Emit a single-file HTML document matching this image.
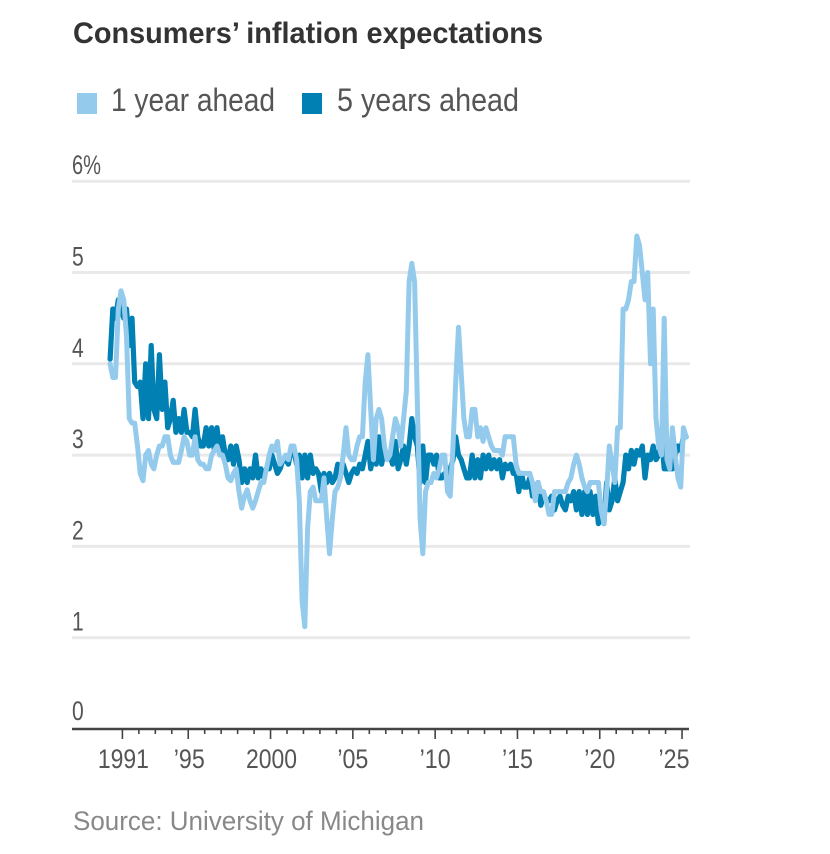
<!DOCTYPE html>
<html lang="en">
<head>
<meta charset="utf-8">
<title>Consumers' inflation expectations</title>
<style>
html,body{margin:0;padding:0;background:#fff;}
svg{display:block;font-family:"Liberation Sans",sans-serif;}
</style>
</head>
<body>
<svg id="chart" xmlns="http://www.w3.org/2000/svg" width="830" height="854" viewBox="0 0 830 854">
  <text x="73" y="43" font-size="30" font-weight="700" fill="#333" textLength="470" lengthAdjust="spacingAndGlyphs">Consumers’ inflation expectations</text>
  <rect x="77" y="93" width="20" height="21" fill="#94cbec"/>
  <text x="111" y="111" font-size="32" fill="#555" textLength="164" lengthAdjust="spacingAndGlyphs">1 year ahead</text>
  <rect x="302" y="93" width="20" height="21" fill="#0080b3"/>
  <text x="337" y="111" font-size="32" fill="#555" textLength="182" lengthAdjust="spacingAndGlyphs">5 years ahead</text>
  <g id="grid"></g>
  <g id="ylabels"></g>
  <g id="series"></g>
  <g id="xaxis"></g>
  <text x="73" y="830" font-size="27" fill="#888" textLength="351" lengthAdjust="spacingAndGlyphs">Source: University of Michigan</text>
</svg>
<script>
// Observations run every two months from the first date onward
const firstDate = 1990.25;
const stepYears = 1 / 6;

const oneYearValues = [
4.0,3.85,3.85,4.6,4.8,4.7,4.3,3.4,3.35,3.35,3.1,2.8,2.72,3.0,3.05,2.9,2.85,3.0,3.1,3.1,
3.2,3.2,3.0,2.92,2.92,2.92,3.05,3.2,3.15,3.0,3.0,3.2,2.95,2.9,2.9,2.85,2.85,3.0,3.05,3.1,
3.0,3.0,2.9,2.75,2.72,2.8,2.85,2.6,2.42,2.55,2.62,2.5,2.42,2.5,2.6,2.7,2.7,2.85,3.0,3.1,
3.05,3.15,2.9,2.95,3.0,2.95,3.1,3.1,2.95,2.5,1.4,1.12,2.2,2.6,2.65,2.5,2.5,2.5,2.75,2.3,
1.92,2.3,2.6,2.65,2.75,3.0,3.3,3.0,2.95,2.95,3.1,3.2,3.2,3.8,4.1,3.5,2.95,3.4,3.5,3.4,
3.1,2.95,3.0,3.2,3.4,3.3,3.1,3.4,3.7,4.9,5.1,4.9,3.6,2.3,1.92,2.6,2.7,2.7,2.8,2.75,
2.85,3.0,3.0,2.6,2.55,3.1,3.8,4.4,3.9,3.4,3.2,3.2,3.5,3.5,3.2,3.3,3.15,3.3,3.2,3.1,
3.05,3.05,3.05,3.0,3.2,3.2,3.2,3.2,2.9,2.8,2.8,2.8,2.8,2.8,2.7,2.5,2.7,2.6,2.6,2.5,
2.35,2.35,2.6,2.6,2.6,2.6,2.6,2.7,2.75,2.9,3.0,2.9,2.75,2.65,2.6,2.7,2.7,2.7,2.7,2.4,
2.25,2.6,3.1,2.9,2.7,3.3,3.3,4.6,4.6,4.7,4.9,4.9,5.4,5.3,5.0,4.7,5.0,4.0,4.6,3.4,
3.1,3.0,4.5,2.95,2.85,3.3,3.0,2.75,2.65,3.3,3.2
];

const fiveYearValues = [
4.05,4.6,4.5,4.7,4.6,4.5,4.6,4.2,4.5,3.8,3.75,3.8,3.4,4.0,3.4,4.2,3.5,3.4,4.1,3.5,
3.8,3.3,3.4,3.6,3.25,3.4,3.25,3.5,3.25,3.25,3.2,3.5,3.2,3.1,3.1,3.3,3.1,3.3,3.05,3.3,
3.05,3.2,3.0,2.95,3.1,2.9,3.1,2.95,2.7,2.85,2.7,2.85,2.75,3.0,2.75,2.85,2.75,2.85,2.85,3.0,
2.9,2.8,2.85,2.95,2.95,2.9,3.05,3.05,2.9,3.0,2.75,3.0,2.75,3.0,2.8,2.85,2.8,2.6,2.8,2.7,
2.8,2.7,2.75,2.9,2.8,2.9,2.8,2.7,2.8,2.85,2.8,2.9,2.85,3.0,3.15,2.85,3.0,2.9,3.2,2.9,
3.05,3.0,3.0,2.9,3.15,2.85,2.95,3.1,2.9,3.1,3.4,3.2,3.1,2.7,3.1,2.7,3.0,3.0,2.9,3.0,
2.75,2.75,2.8,2.8,2.85,2.95,3.2,3.0,2.95,2.85,2.75,2.75,3.0,2.75,2.95,2.75,3.0,2.85,3.0,2.85,
2.95,2.85,2.95,2.75,2.9,2.85,2.9,2.8,2.8,2.6,2.8,2.65,2.65,2.75,2.55,2.6,2.7,2.45,2.55,2.5,
2.5,2.55,2.4,2.5,2.55,2.45,2.4,2.55,2.5,2.6,2.4,2.6,2.35,2.6,2.35,2.6,2.35,2.55,2.25,2.4,
2.25,2.7,2.4,2.5,2.75,2.5,2.6,2.7,3.0,2.85,3.05,2.9,3.05,3.0,3.1,2.75,3.0,2.95,3.1,2.95,
3.0,3.2,2.85,2.85,2.85,2.85,3.0,3.1,3.05,3.2,3.2
];

const yTickValues = [0, 1, 2, 3, 4, 5, 6];
const yTickLabels = ["0", "1", "2", "3", "4", "5", "6%"];
const xMajorYears = [1991, 1995, 2000, 2005, 2010, 2015, 2020, 2025];
const xMajorLabels = ["1991", "’95", "2000", "’05", "’10", "’15", "’20", "’25"];
const xMinorFirst = 1991;
const xMinorLast = 2025;

function xScale(year) { return 122.4 + (year - 1991) * 16.46; }
function yScale(v) { return 729 - v * 91.3; }

const NS = "http://www.w3.org/2000/svg";
function make(tag, attrs, parent) {
  const el = document.createElementNS(NS, tag);
  for (const k in attrs) el.setAttribute(k, attrs[k]);
  parent.appendChild(el);
  return el;
}

const grid = document.getElementById("grid");
const ylabels = document.getElementById("ylabels");
const series = document.getElementById("series");
const xaxis = document.getElementById("xaxis");

yTickValues.forEach(function (v, i) {
  if (v !== 0) {
    const line = make("line", {x1: 72, x2: 690, y1: yScale(v), y2: yScale(v), stroke: "#e9e9e9", "stroke-width": 3}, grid);
    
    
  }
  const t = make("text", {x: 72, y: yScale(v) - (v === 0 ? 9 : 7), "font-size": 27, fill: "#555"}, ylabels);
  
  
  t.textContent = yTickLabels[i];
  if (i === yTickLabels.length - 1) {
    t.setAttribute("textLength", 29);
    t.setAttribute("lengthAdjust", "spacingAndGlyphs");
  } else {
    t.setAttribute("transform", "translate(" + (72 * 0.22) + " 0) scale(0.78 1)");
  }
});

function drawLine(values, color, width, name) {
  const pts = values.map(function (v, i) {
    return xScale(firstDate + i * stepYears).toFixed(1) + "," + yScale(v).toFixed(1);
  }).join(" ");
  const p = make("polyline", {points: pts, fill: "none", stroke: color, "stroke-width": width, "stroke-linejoin": "round", "stroke-linecap": "round"}, series);
  
  
}
drawLine(fiveYearValues, "#0080b3", 5.2, "line-5-years-ahead");
drawLine(oneYearValues, "#94cbec", 5, "line-1-year-ahead");

const axisLine = make("line", {x1: 72, x2: 689, y1: 729, y2: 729, stroke: "#444", "stroke-width": 2.4}, xaxis);



for (let yr = xMinorFirst; yr <= xMinorLast; yr++) {
  const major = xMajorYears.indexOf(yr) >= 0;
  const tick = make("line", {x1: xScale(yr), x2: xScale(yr), y1: 729, y2: major ? 739 : 734, stroke: "#444", "stroke-width": 1.6}, xaxis);
  
  
}

xMajorYears.forEach(function (yr, i) {
  const label = xMajorLabels[i];
  const isLong = label.length === 4;
  const cx = i === xMajorYears.length - 1 ? 674 : xScale(yr) + (isLong ? 1 : (yr === 1995 ? 1 : 0));
  const t = make("text", {x: cx, y: 768, "font-size": 27, fill: "#555", "text-anchor": "middle", textLength: isLong ? 51 : 31, lengthAdjust: "spacingAndGlyphs"}, xaxis);
  
  
  t.textContent = label;
});
</script>
</body>
</html>
